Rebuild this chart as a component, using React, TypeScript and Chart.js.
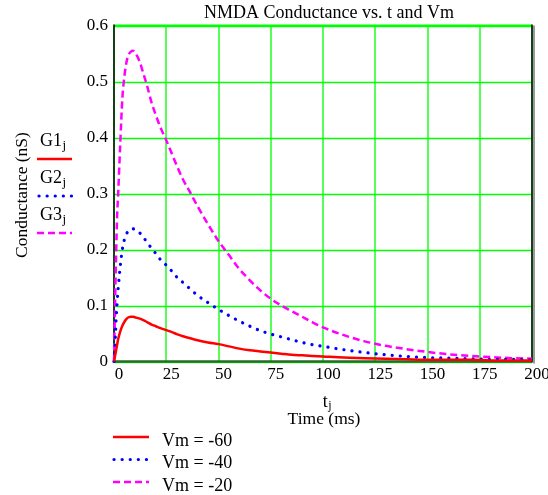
import { useEffect, useRef } from "react";
import { Chart, registerables } from "chart.js";

Chart.register(...registerables);

const timeMs = [0, 0.5, 1, 1.5, 2, 3, 4, 5, 6, 7, 8, 9, 10, 12, 14, 16, 18, 20, 22, 25, 28, 30, 33, 36, 40, 45, 50, 55, 60, 65, 70, 75, 80, 85, 90, 95, 100, 110, 120, 130, 140, 150, 160, 170, 180, 190, 200];

const g1 = [0, 0.01, 0.02, 0.03, 0.04, 0.054, 0.064, 0.071, 0.076, 0.079, 0.08, 0.08, 0.079, 0.077, 0.074, 0.07, 0.066, 0.063, 0.06, 0.056, 0.052, 0.049, 0.045, 0.042, 0.038, 0.034, 0.031, 0.027, 0.023, 0.02, 0.018, 0.016, 0.014, 0.012, 0.011, 0.01, 0.009, 0.007, 0.006, 0.005, 0.004, 0.003, 0.003, 0.003, 0.002, 0.002, 0.002];

const g2 = [0, 0.03, 0.075, 0.105, 0.13, 0.17, 0.2, 0.218, 0.228, 0.234, 0.236, 0.237, 0.236, 0.231, 0.222, 0.212, 0.202, 0.193, 0.183, 0.172, 0.16, 0.151, 0.141, 0.131, 0.118, 0.105, 0.093, 0.082, 0.072, 0.063, 0.055, 0.049, 0.044, 0.039, 0.034, 0.03, 0.027, 0.021, 0.016, 0.012, 0.009, 0.007, 0.006, 0.005, 0.004, 0.004, 0.003];

const g3 = [0, 0.1, 0.19, 0.26, 0.3, 0.39, 0.47, 0.51, 0.535, 0.548, 0.553, 0.555, 0.552, 0.538, 0.515, 0.49, 0.462, 0.44, 0.42, 0.395, 0.368, 0.35, 0.325, 0.305, 0.277, 0.245, 0.215, 0.19, 0.165, 0.145, 0.127, 0.112, 0.1, 0.09, 0.08, 0.07, 0.061, 0.047, 0.036, 0.028, 0.022, 0.017, 0.013, 0.01, 0.008, 0.006, 0.005];

const seriesLabels = ["Vm = -60", "Vm = -40", "Vm = -20"];
const axisLegendNames = ["G1", "G2", "G3"];
const titleText = "NMDA Conductance vs. t and Vm";
const yTitle = "Conductance (nS)";
const xTitleVar = "t";
const xTitleText = "Time (ms)";

const colors = ["#ff0000", "#0000ff", "#ff00ff"];
const dashes = [[], [0.1, 8], [7, 4]];
const widths = [2.5, 3.2, 2.5];

const FONT = "'Liberation Serif', 'Times New Roman', serif";

function styleLine(ctx: CanvasRenderingContext2D, i: number) {
  ctx.strokeStyle = colors[i];
  ctx.lineWidth = widths[i];
  ctx.setLineDash(dashes[i]);
  ctx.lineCap = i === 1 ? "round" : "butt";
}

function drawSub(ctx: CanvasRenderingContext2D, base: string, sub: string, x: number, y: number, align: "left" | "center", size: number, subSize: number, drop: number) {
  ctx.font = `${size}px ${FONT}`;
  const wb = ctx.measureText(base).width;
  ctx.font = `${subSize}px ${FONT}`;
  const ws = ctx.measureText(sub).width;
  let x0 = x;
  if (align === "center") x0 = x - (wb + ws) / 2;
  ctx.textAlign = "left";
  ctx.textBaseline = "alphabetic";
  ctx.font = `${size}px ${FONT}`;
  ctx.fillText(base, x0, y);
  ctx.font = `${subSize}px ${FONT}`;
  ctx.fillText(sub, x0 + wb + 0.5, y + drop);
}

const overlay = {
  id: "overlay",
  beforeDatasetsDraw(chart: any) {
    const { ctx, chartArea: a, scales } = chart;
    ctx.save();
    ctx.setLineDash([]);
    // grid
    const xs = scales.x;
    const ys = scales.y;
    ctx.strokeStyle = "#55ff55";
    ctx.lineWidth = 2;
    xs.ticks.forEach((t: any) => {
      const px = Math.round(xs.getPixelForValue(t.value));
      ctx.beginPath();
      ctx.moveTo(px, a.top);
      ctx.lineTo(px, a.bottom);
      ctx.stroke();
    });
    ctx.strokeStyle = "#00ff00";
    ctx.lineWidth = 1.5;
    ys.ticks.forEach((t: any) => {
      const py = Math.round(ys.getPixelForValue(t.value)) + 0.5;
      ctx.beginPath();
      ctx.moveTo(a.left, py);
      ctx.lineTo(a.right, py);
      ctx.stroke();
    });
    // frame
    ctx.strokeStyle = "#00ff00";
    ctx.lineWidth = 2;
    ctx.beginPath();
    ctx.moveTo(a.left, a.top);
    ctx.lineTo(a.right, a.top);
    ctx.stroke();
    ctx.strokeStyle = "#2a6a2a";
    ctx.lineWidth = 2.5;
    ctx.beginPath();
    ctx.moveTo(a.left, a.bottom);
    ctx.lineTo(a.right, a.bottom);
    ctx.stroke();
    ctx.strokeStyle = "#000";
    ctx.lineWidth = 1.5;
    ctx.beginPath();
    ctx.moveTo(a.left, a.top - 1);
    ctx.lineTo(a.left, a.bottom + 1);
    ctx.moveTo(a.right, a.top - 1);
    ctx.lineTo(a.right, a.bottom + 1);
    ctx.stroke();
    ctx.strokeStyle = "#999";
    ctx.lineWidth = 2;
    ctx.beginPath();
    ctx.moveTo(a.right + 2, a.top);
    ctx.lineTo(a.right + 2, a.bottom + 2);
    ctx.stroke();
    ctx.restore();
  },
  afterDraw(chart: any) {
    const { ctx } = chart;
    ctx.save();
    ctx.fillStyle = "#000";
    // title
    ctx.font = `18px ${FONT}`;
    ctx.textAlign = "center";
    ctx.textBaseline = "alphabetic";
    ctx.fillText(titleText, 329, 18);
    // y title
    ctx.save();
    ctx.font = `17.5px ${FONT}`;
    ctx.translate(27, 195);
    ctx.rotate(-Math.PI / 2);
    ctx.textAlign = "center";
    ctx.textBaseline = "alphabetic";
    ctx.fillText(yTitle, 0, 0);
    ctx.restore();
    // left legend
    for (let i = 0; i < 3; i++) {
      ctx.fillStyle = "#000";
      drawSub(ctx, axisLegendNames[i], "j", 40, 146 + i * 37, "left", 18, 13, 3);
      ctx.save();
      styleLine(ctx, i);
      ctx.beginPath();
      ctx.moveTo(i === 1 ? 39 : 37, 159 + i * 37);
      ctx.lineTo(72, 159 + i * 37);
      ctx.stroke();
      ctx.restore();
    }
    // x title
    ctx.fillStyle = "#000";
    drawSub(ctx, xTitleVar, "j", 327, 406.5, "center", 18, 12, 2);
    ctx.font = `17.5px ${FONT}`;
    ctx.textAlign = "center";
    ctx.textBaseline = "alphabetic";
    ctx.fillText(xTitleText, 324, 423.5);
    // bottom legend
    for (let i = 0; i < 3; i++) {
      const y = 437 + i * 22.5;
      ctx.save();
      styleLine(ctx, i);
      ctx.beginPath();
      ctx.moveTo(i === 1 ? 114 : 113, y);
      ctx.lineTo(149, y);
      ctx.stroke();
      ctx.restore();
      ctx.fillStyle = "#000";
      ctx.font = `18px ${FONT}`;
      ctx.textAlign = "left";
      ctx.textBaseline = "alphabetic";
      ctx.fillText(seriesLabels[i], 162, y + 8.5);
    }
    ctx.restore();
  },
};

export default function App() {
  const ref = useRef<HTMLCanvasElement | null>(null);
  useEffect(() => {
    document.body.style.margin = "0";
    const canvas = ref.current;
    if (!canvas) return;
    const series = [g1, g2, g3];
    const chart = new Chart(canvas, {
      type: "line",
      data: {
        datasets: series.map((s, i) => ({
          label: seriesLabels[i],
          data: timeMs.map((t, k) => ({ x: t, y: s[k] })),
          borderColor: colors[i],
          borderWidth: widths[i],
          borderDash: dashes[i],
          borderCapStyle: i === 1 ? "round" : "butt",
          pointRadius: 0,
          fill: false,
          cubicInterpolationMode: "monotone",
          clip: 4,
        })) as any,
      },
      options: {
        animation: false,
        responsive: false,
        devicePixelRatio: 1,
        layout: { padding: { top: 25.5, right: 16, left: 0, bottom: 0 } },
        plugins: { legend: { display: false }, title: { display: false }, tooltip: { enabled: false } },
        scales: {
          x: {
            type: "linear",
            min: 0,
            max: 200,
            afterFit: (s: any) => { s.height = 133.5; },
            ticks: { stepSize: 25, color: "#000", font: { family: FONT, size: 17 }, padding: 3, labelOffset: 5, maxRotation: 0, autoSkip: false },
            grid: { display: false, drawTicks: false },
            border: { display: false },
          },
          y: {
            min: 0,
            max: 0.6,
            afterFit: (s: any) => { s.width = 114; },
            ticks: { stepSize: 0.1, color: "#000", font: { family: FONT, size: 17 }, padding: 6 },
            grid: { display: false, drawTicks: false },
            border: { display: false },
          },
        },
      },
      plugins: [overlay],
    });
    return () => chart.destroy();
  }, []);
  return <canvas ref={ref} width={548} height={495} style={{ display: "block", width: 548, height: 495 }} />;
}
